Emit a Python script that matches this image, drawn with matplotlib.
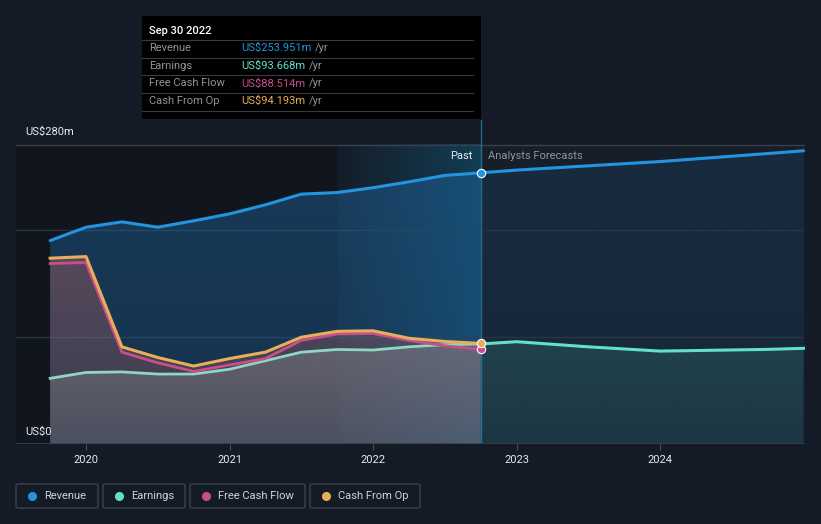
import numpy as np
import matplotlib.pyplot as plt
from matplotlib.colors import to_rgb
from matplotlib.patches import Rectangle, FancyBboxPatch

plt.rcParams['font.family'] = ['Roboto', 'DejaVu Sans']

# past data, quarterly (decimal year), values in US$m
past_dates = [2019.75, 2020.0, 2020.25, 2020.5, 2020.75, 2021.0, 2021.25,
              2021.5, 2021.75, 2022.0, 2022.25, 2022.5, 2022.75]
revenue = [190.5, 203, 208, 203, 209, 215.5, 224, 234, 235.5, 240, 245.5, 251.5, 253.951]
earnings = [61.5, 67, 67.5, 65.5, 65.5, 70, 78, 86, 88.5, 88, 91, 93, 93.668]
fcf = [169, 170, 86, 76, 68, 74, 80, 97, 103, 103.5, 97, 92, 88.514]
cfo = [174, 175.5, 91, 81, 73, 80, 86, 100, 105.5, 106, 99, 96, 94.193]

# analyst forecasts
fc_dates = [2022.75, 2023.0, 2023.5, 2024.0, 2024.75, 2025.0]
fc_revenue = [253.951, 256.5, 260.5, 264.5, 272, 274.6]
fc_earnings = [93.668, 95.8, 91, 87, 88.6, 89.6]

years = [2020, 2021, 2022, 2023, 2024]

BG = '#151b26'
C_REV = '#2394df'
C_EARN = '#63e0c8'
C_FCF = '#c94f8a'
C_CFO = '#e8ae5a'

W, H = 821, 524
fig = plt.figure(figsize=(W / 100, H / 100), dpi=100, facecolor=BG)

def fx(x):
    return x / W

def fy(y):
    return 1 - y / H

# main axes: pixel x 16..805, y 120..444
ax = fig.add_axes([fx(16), fy(444), fx(805 - 16), (444 - 120) / H])
ax.set_facecolor(BG)
x0, x1 = 2019.512, 2025.01
ymax = (444 - 120) / (299 / 280)


def grad_fill(x, y, color, a_top, a_bot, z):
    # area under a line, shaded with a vertical alpha gradient
    poly = ax.fill_between(x, y, 0, color='none', lw=0)
    img = np.zeros((100, 1, 4))
    img[..., :3] = to_rgb(color)
    img[..., 3] = np.linspace(a_top, a_bot, 100)[:, None]
    im = ax.imshow(img, extent=[min(x), max(x), 0, max(y)], aspect='auto',
                   origin='upper', zorder=z, interpolation='bilinear')
    im.set_clip_path(poly.get_paths()[0], transform=ax.transData)


# background zones
ax.axvspan(x0, 2021.75, ymax=280 / ymax, color='#11161e', zorder=0)
ax.axvspan(2022.75, x1, ymax=280 / ymax, color='#161e2a', zorder=0)
grad = np.zeros((2, 200, 4))
grad[..., 0] = 0.06
grad[..., 1] = 0.40
grad[..., 2] = 0.55
grad[..., 3] = np.linspace(0.03, 0.45, 200)[None, :]
ax.imshow(grad, extent=[2021.75, 2022.75, 0, 280], aspect='auto', zorder=0.5,
          interpolation='bilinear')

# gridlines
for g, c in [(100, '#2a323d'), (200, '#2a323d'), (280, '#3a414b')]:
    ax.axhline(g, color=c, lw=1, zorder=1)
ax.axhline(0, color='#3a414b', lw=1.2, zorder=6)

# fills (past)
grad_fill(past_dates, revenue, '#1f66a0', 0.45, 0.35, 2)
grad_fill(past_dates, cfo, '#b06262', 0.42, 0.22, 2.2)
grad_fill(past_dates, earnings, '#7e8084', 0.5, 0.3, 2.4)
# fills (forecast)
grad_fill(fc_dates, fc_revenue, '#1b3a58', 0.45, 0.35, 2)
grad_fill(fc_dates, fc_earnings, '#2d6262', 0.45, 0.25, 2.4)

# lines
ax.plot(past_dates, revenue, color=C_REV, lw=2.2, zorder=4, solid_capstyle='round')
ax.plot(fc_dates, fc_revenue, color=C_REV, lw=2.2, zorder=4, solid_capstyle='round')
ax.plot(past_dates, earnings, color='#8fd6c4', lw=2, zorder=4)
ax.plot(fc_dates, fc_earnings, color=C_EARN, lw=2.2, zorder=4)
ax.plot(past_dates, fcf, color=C_FCF, lw=2, zorder=4.2)
ax.plot(past_dates, cfo, color=C_CFO, lw=2.2, zorder=4.4)

# today line and markers
ax.axvline(2022.75, color='#2a7ba0', lw=1, zorder=3, alpha=0.8)
for v, c in [(revenue[-1], C_REV), (fcf[-1], C_FCF), (cfo[-1], C_CFO)]:
    ax.plot(2022.75, v, 'o', ms=6, color=c, mec='white', mew=0.8, zorder=7)

ax.set_xlim(x0, x1)
ax.set_ylim(0, ymax)
for s in ax.spines.values():
    s.set_visible(False)
ax.set_yticks([])
ax.set_xticks(years)
ax.set_xticklabels([str(y) for y in years], color='#e6e8eb', fontsize=8)
ax.tick_params(axis='x', length=4, color='#4a505a', pad=4)

# axis labels / zone labels
fig.text(fx(25), fy(132), 'US$280m', color='#e6e8eb', fontsize=8, va='center')
fig.text(fx(25), fy(432), 'US$0', color='#e6e8eb', fontsize=8, va='center')
fig.text(fx(472), fy(156), 'Past', color='#e6e8eb', fontsize=8, va='center', ha='right')
fig.text(fx(488), fy(156), 'Analysts Forecasts', color='#8e949c', fontsize=8, va='center')

# tooltip
fig.patches.append(Rectangle((fx(142), fy(119)), fx(481 - 142), (119 - 16) / H,
                             transform=fig.transFigure, facecolor='black', edgecolor='none'))
fig.text(fx(149), fy(31), 'Sep 30 2022', color='white', fontsize=8, va='center', weight='medium')
rows = [('Revenue', 'US$253.951m', C_REV),
        ('Earnings', 'US$93.668m', C_EARN),
        ('Free Cash Flow', 'US$88.514m', C_FCF),
        ('Cash From Op', 'US$94.193m', C_CFO)]
renderer = fig.canvas.get_renderer()
for i, (lab, val, c) in enumerate(rows):
    y = 48 + i * 17.7
    fig.text(fx(149), fy(y), lab, color='#8e949c', fontsize=8, va='center')
    t = fig.text(fx(241), fy(y), val, color=c, fontsize=8, va='center')
    x_end = t.get_window_extent(renderer).x1
    fig.text((x_end + 4) / W, fy(y), '/yr', color='#8e949c', fontsize=8, va='center')
for yl in [40, 57.5, 75, 93, 111]:
    fig.lines.append(plt.Line2D([fx(142), fx(473)], [fy(yl), fy(yl)],
                                transform=fig.transFigure, color='#3a3a3a', lw=0.8))

# legend boxes
legend = [('Revenue', C_REV, 16, 98), ('Earnings', C_EARN, 103, 185),
          ('Free Cash Flow', C_FCF, 190, 305), ('Cash From Op', C_CFO, 310, 420)]
for lab, c, l, r in legend:
    fig.patches.append(FancyBboxPatch((fx(l), fy(508)), fx(r - l), 24 / H,
                                      boxstyle='round,pad=0,rounding_size=0.003',
                                      transform=fig.transFigure, facecolor='none',
                                      edgecolor='#3c424c', lw=1))
    fig.lines.append(plt.Line2D([fx(l + 16)], [fy(496)], transform=fig.transFigure,
                                marker='o', ms=5.5, color=c, lw=0))
    fig.text(fx(l + 28), fy(496), lab, color='#d0d3d8', fontsize=8, va='center')

fig.savefig('out.png', dpi=100, facecolor=BG)
